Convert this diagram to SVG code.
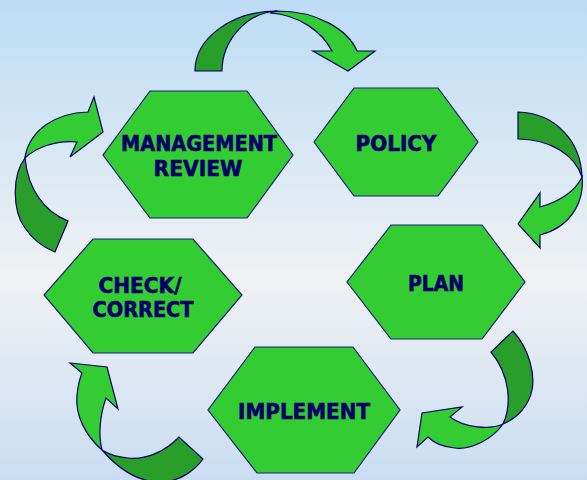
<svg xmlns="http://www.w3.org/2000/svg" width="587" height="480" viewBox="0 0 587 480">
  <defs>
    <linearGradient id="bg" x1="0" y1="0" x2="0" y2="1">
      <stop offset="0" stop-color="#bcdcf4"/>
      <stop offset="0.58" stop-color="#f0f1f3"/>
      <stop offset="1" stop-color="#c9ddf2"/>
    </linearGradient>
    <style>
      .hex { fill: #33cc33; stroke: #1c1c7a; stroke-width: 1.2; }
      .lbl { font-family: "DejaVu Sans", Verdana, sans-serif; font-weight: bold; font-size: 21px; fill: #000066; stroke: #000066; stroke-width: 0.6; text-anchor: middle; }
      .dark { fill: #2a9e2a; stroke: #000066; stroke-width: 1.2; stroke-linejoin: miter; }
      .light { fill: #33cc33; stroke: #000066; stroke-width: 1.2; stroke-linejoin: miter; }
    </style>
  </defs>
  <rect width="587" height="480" fill="url(#bg)"/>

  <g id="connectors">
    <!-- top arrow: Management Review -> Policy -->
    <path class="dark" d="M195,71 C195,38 232,11 277,11 C245,13 222,42 222,71 Z"/>
    <path class="light" d="M277,11 C318,11 348,30 357,51 L375,51 L348,71 L313,51 L332,51 C322,32 300,15 270,13 Z"/>
    <!-- right arrow: Policy -> Plan -->
    <path class="dark" d="M518,112 C557,113 581,143 582,177 C575,155 550,139 518,139 Z"/>
    <path class="light" d="M582,175 C585,205 568,228 540,235 L540,248 L518,224 L540,193 L540,207 C558,202 575,192 582,177 Z"/>
    <!-- bottom-right arrow: Plan -> Implement -->
    <path class="dark" d="M513,331 C530,350 535,375 532,390 C529,405 518,418 503,424 C512,405 510,375 491,352 Z"/>
    <path class="light" d="M503,424 C492,440 470,450 455,448 C443,447 433,442 428,437 L417,447 L422,413 L462,407 L450,417 C465,428 490,430 503,424 Z"/>
    <!-- bottom-left arrow: Implement -> Check/Correct -->
    <path class="dark" d="M179,437 C165,452 145,460 128,458 C118,457 108,454 102,450 C115,465 135,482 160,482 C180,482 195,470 203,459 Z"/>
    <path class="light" d="M102,450 C85,435 75,415 77,395 C78,385 80,378 82,373 L70,363 L107,367 L118,409 L106,398 C100,415 98,435 102,450 Z"/>
    <!-- left arrow: Check/Correct -> Management Review -->
    <path class="dark" d="M68,221 C45,212 28,190 25,158 C12,175 12,210 25,228 C33,240 45,248 55,252 Z"/>
    <path class="light" d="M25,157 C30,130 55,113 88,112 L94,97 L103,132 L70,157 L77,142 C55,140 35,148 25,158 Z"/>
  </g>

  <g id="management-review">
    <polygon class="hex" points="150,91 247,91 293,155 247,218 150,218 103,155"/>
    <text class="lbl" x="199" y="151" textLength="156" lengthAdjust="spacingAndGlyphs">MANAGEMENT</text>
    <text class="lbl" x="198" y="176" textLength="89" lengthAdjust="spacingAndGlyphs">REVIEW</text>
  </g>
  <g id="policy">
    <polygon class="hex" points="354,88 438,88 478,142 438,196 354,196 314,142"/>
    <text class="lbl" x="396" y="151" textLength="81" lengthAdjust="spacingAndGlyphs">POLICY</text>
  </g>
  <g id="plan">
    <polygon class="hex" points="391,225 482,225 525,282 482,339 391,339 347,282"/>
    <text class="lbl" x="436" y="291" textLength="56" lengthAdjust="spacingAndGlyphs">PLAN</text>
  </g>
  <g id="implement">
    <polygon class="hex" points="255,347 353,347 400,410 354,473 257,473 208,410"/>
    <text class="lbl" x="304" y="419" textLength="132" lengthAdjust="spacingAndGlyphs">IMPLEMENT</text>
  </g>
  <g id="check-correct">
    <polygon class="hex" points="93,239 193,239 242,295 193,353 93,353 44,295"/>
    <text class="lbl" x="140" y="293" textLength="83" lengthAdjust="spacingAndGlyphs">CHECK/</text>
    <text class="lbl" x="143" y="317" textLength="101" lengthAdjust="spacingAndGlyphs">CORRECT</text>
  </g>
</svg>
